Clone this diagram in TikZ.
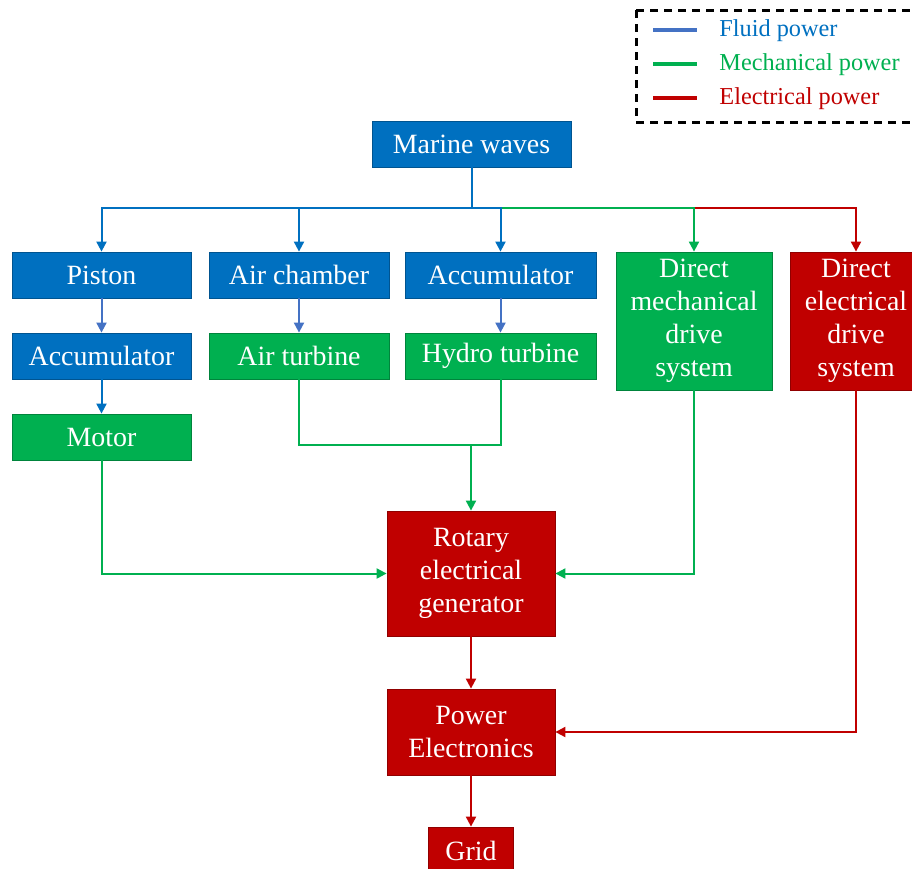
\documentclass[tikz,border=0pt]{standalone}
\usepackage{fontspec}
\setmainfont{Liberation Serif}
\usetikzlibrary{arrows.meta}
\definecolor{fluid}{HTML}{0070C0}
\definecolor{fluidlt}{HTML}{4472C4}
\definecolor{mech}{HTML}{00B050}
\definecolor{elec}{HTML}{C00000}

\begin{document}
\begin{tikzpicture}[x=0.5bp,y=-0.5bp,
  blk/.style={draw=#1!75!black, fill=#1, text=white, inner sep=0pt, align=center,
    font=\fontsize{14}{16.5}\selectfont},
  flow/.style={draw=#1, line width=1bp, -{Triangle[width=5bp,length=5bp]}},
  wire/.style={draw=#1, line width=1bp},
  lgline/.style={draw=#1, line width=2bp},
  lgtext/.style={anchor=west, inner sep=0pt, text=#1, font=\fontsize{12.2}{14}\selectfont}]
  \clip (0,0) rectangle (912,869);

  % legend
  \draw[line width=1.5bp, dash pattern=on 4bp off 3bp] (636,10) rectangle (920,122);
  \draw[lgline=fluidlt] (653,30) -- (697,30);
  \draw[lgline=mech] (653,64) -- (697,64);
  \draw[lgline=elec] (653,98) -- (697,98);
  \node[lgtext=fluid] (lgfluid) at (719,31) {Fluid power};
  \node[lgtext=mech] (lgmech) at (719,65) {Mechanical power};
  \node[lgtext=elec] (lgelec) at (719,99) {Electrical power};

  % blocks
  \node[blk=fluid, minimum width=99.5bp, minimum height=23bp] (waves) at (471.5,144) {Marine waves};

  \node[blk=fluid, minimum width=89.5bp, minimum height=23bp] (piston) at (101.5,275) {Piston};
  \node[blk=fluid, minimum width=90bp, minimum height=23bp] (airch) at (299,275) {Air chamber};
  \node[blk=fluid, minimum width=95.5bp, minimum height=23bp] (acctop) at (500.5,275) {Accumulator};
  \node[blk=mech, minimum width=78bp, minimum height=69bp] (dmech) at (694,321) {Direct\\mechanical\\drive\\system};
  \node[blk=elec, minimum width=66bp, minimum height=69bp] (delec) at (856,321) {Direct\\electrical\\drive\\system};

  \node[blk=fluid, minimum width=89.5bp, minimum height=23bp] (accleft) at (101.5,356) {Accumulator};
  \node[blk=mech, minimum width=90bp, minimum height=23bp] (airturb) at (299,356) {Air turbine};
  \node[blk=mech, minimum width=95.5bp, minimum height=23bp] (hydro) at (500.5,356) {Hydro turbine};

  \node[blk=mech, minimum width=89.5bp, minimum height=23bp] (motor) at (101.5,437) {Motor};

  \node[blk=elec, minimum width=84bp, minimum height=62.5bp] (gen) at (471,573.5) {Rotary\\electrical\\generator};
  \node[blk=elec, minimum width=84bp, minimum height=43bp] (pe) at (471,732) {Power\\Electronics};
  \node[blk=elec, minimum width=42.5bp, minimum height=24bp] (grid) at (471,851) {Grid};

  % top bus
  \coordinate (bus) at (471.5,208);
  \coordinate (busg) at (500.5,208);
  \coordinate (busr) at (694,208);
  \draw[flow=elec] (busr) -| (delec.north);
  \draw[flow=mech] (busg) -| (dmech.north);
  \draw[flow=fluid] (waves.south) -- (bus) -| (piston.north);
  \draw[flow=fluid] (bus) -| (airch.north);
  \draw[flow=fluid] (bus) -| (acctop.north);

  % columns
  \draw[flow=fluidlt] (piston) -- (accleft);
  \draw[flow=fluid] (accleft) -- (motor);
  \draw[flow=fluidlt] (airch) -- (airturb);
  \draw[flow=fluidlt] (acctop) -- (hydro);

  % mechanical to generator
  \coordinate (merge) at (471,445);
  \draw[wire=mech] (airturb.south) |- (hydro.south |- merge) -- (hydro.south);
  \draw[flow=mech] (merge) -- (gen.north);
  \draw[flow=mech] (motor.south) |- (gen.west);
  \draw[flow=mech] (dmech.south) |- (gen.east);

  % electrical
  \draw[flow=elec] (gen) -- (pe);
  \draw[flow=elec] (pe) -- (grid);
  \draw[flow=elec] (delec.south) |- (pe.east);
\end{tikzpicture}
\end{document}
